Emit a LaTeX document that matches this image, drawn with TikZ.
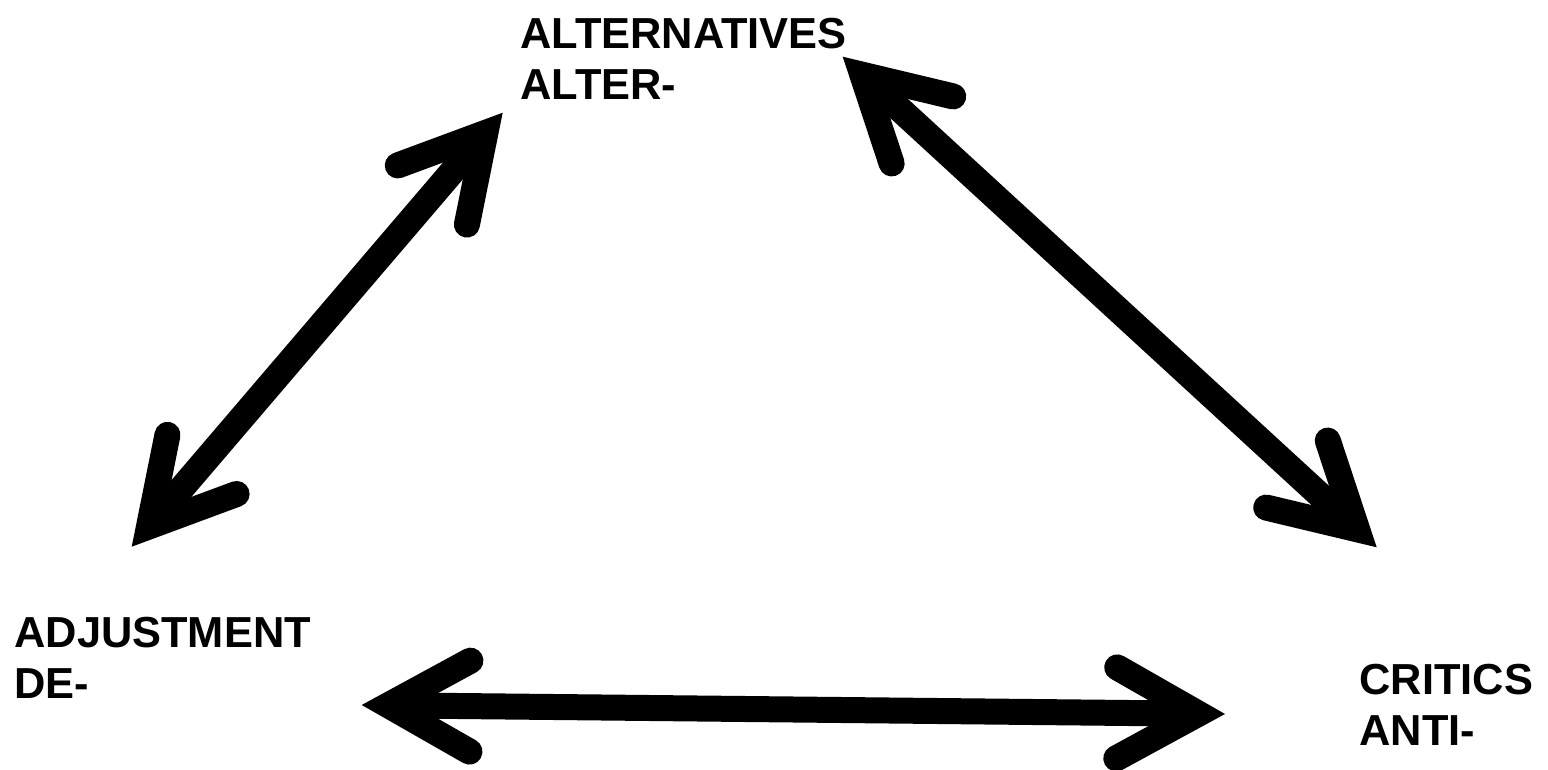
\documentclass[tikz,border=0pt]{standalone}
\usepackage{fontspec}
\setmainfont{Liberation Sans}
\usetikzlibrary{arrows.meta}
\tikzstyle{term} = [anchor=base west, inner sep=0pt, align=left, font=\fontsize{21.7}{25.5}\selectfont\bfseries]
\tikzstyle{arrow} = [line width=13pt, <->, >={Straight Barb[length=40.8pt, width=45.5pt, line cap=round, line join=miter]}]
\begin{document}
\begin{tikzpicture}[x=0.5pt, y=-0.5pt]
		\useasboundingbox (0,0) rectangle (1548,770);
		\node (Alternatives) [term] at (520,100) {ALTERNATIVES\\ALTER-};
		\node (Adjustment) [term] at (14,698) {ADJUSTMENT\\DE-};
		\node (Critics) [term] at (1359,745) {CRITICS\\ANTI-};
		\coordinate (AdjustmentUp) at (131.7,546.7);
		\coordinate (AdjustmentRight) at (361.7,705);
		\coordinate (AlternativesLeft) at (502.7,112.7);
		\coordinate (AlternativesRight) at (842.7,56.7);
		\coordinate (CriticsUp) at (1376.7,547.3);
		\coordinate (CriticsLeft) at (1225,714);
		\draw [arrow] (AdjustmentUp) -- (AlternativesLeft);
		\draw [arrow] (AlternativesRight) -- (CriticsUp);
		\draw [arrow] (AdjustmentRight) -- (CriticsLeft);
\end{tikzpicture}
\end{document}
